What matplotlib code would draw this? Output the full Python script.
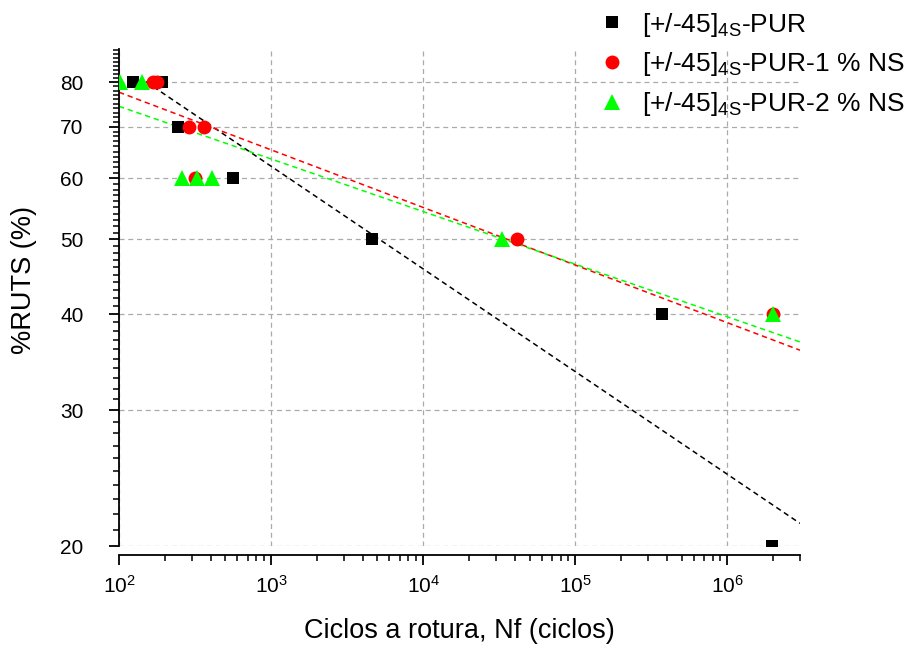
import numpy as np
import matplotlib
matplotlib.use('Agg')
import matplotlib.pyplot as plt
from matplotlib.ticker import FixedLocator, FixedFormatter, NullFormatter, LogLocator, LogFormatterMathtext

plt.rcParams['font.family'] = ['Liberation Sans', 'DejaVu Sans']
plt.rcParams['mathtext.fontset'] = 'custom'
plt.rcParams['mathtext.rm'] = 'Liberation Sans'
plt.rcParams['mathtext.it'] = 'Liberation Sans:italic'

# data
pur_n = [124, 192, 244, 562, 4610, 373000, 1950000]
pur_s = [80, 80, 70, 60, 50, 40, 20]

ns1_n = [167, 178, 289, 362, 316, 41500, 2000000]
ns1_s = [80, 80, 70, 70, 60, 50, 40]

ns2_n = [101, 141, 259, 326, 409, 33000, 2000000]
ns2_s = [80, 80, 60, 60, 60, 50, 40]

# fitted lines (end points)
fit_pur_n = [150, 3e6]
fit_pur_s = [80.1, 21.4]
fit_ns1_n = [100, 3e6]
fit_ns1_s = [77.6, 35.9]
fit_ns2_n = [100, 3e6]
fit_ns2_s = [74.4, 36.8]

y_ticks = [20, 30, 40, 50, 60, 70, 80]

labels = [r'[+/-45]$_{\mathrm{4S}}$-PUR',
          r'[+/-45]$_{\mathrm{4S}}$-PUR-1 % NS',
          r'[+/-45]$_{\mathrm{4S}}$-PUR-2 % NS']

fig = plt.figure(figsize=(9.07, 6.48), dpi=100)
ax = fig.add_axes([119 / 907, 102 / 648, (800 - 119) / 907, (546 - 49) / 648])

dash = (0, (3.5, 2.5))
ax.plot(fit_pur_n, fit_pur_s, color='black', linestyle=dash, lw=1.1, zorder=2)
ax.plot(fit_ns1_n, fit_ns1_s, color='#ff0000', linestyle=dash, lw=1.1, zorder=2)
ax.plot(fit_ns2_n, fit_ns2_s, color='#00ff00', linestyle=dash, lw=1.1, zorder=2)

h1, = ax.plot(pur_n, pur_s, 's', color='black', ms=9, mew=0, zorder=3, label=labels[0])
h2, = ax.plot(ns1_n, ns1_s, 'o', color='#ff0000', ms=10, mew=0, zorder=4, label=labels[1])
h3, = ax.plot(ns2_n, ns2_s, '^', color='#00ff00', ms=11, mew=0, zorder=5, label=labels[2])

ax.set_xscale('log')
ax.set_yscale('log')
ax.set_xlim(100, 3e6)
ax.set_ylim(20, 88.3)

ax.yaxis.set_major_locator(FixedLocator(y_ticks))
ax.yaxis.set_minor_locator(FixedLocator(np.arange(21, 89, 1)))
ax.yaxis.set_major_formatter(FixedFormatter([str(v) for v in y_ticks]))
ax.yaxis.set_minor_formatter(NullFormatter())

ax.xaxis.set_major_locator(LogLocator(base=10))
ax.xaxis.set_minor_locator(LogLocator(base=10, subs=np.arange(2, 10)))
ax.xaxis.set_major_formatter(LogFormatterMathtext())
ax.xaxis.set_minor_formatter(NullFormatter())

for s in ['top', 'right']:
    ax.spines[s].set_visible(False)
ax.spines['bottom'].set_position(('outward', 6.5))
ax.spines['left'].set_linewidth(1.3)
ax.spines['bottom'].set_linewidth(1.3)

ax.tick_params(which='major', direction='out', length=7, width=1.3, labelsize=15)
ax.tick_params(which='minor', direction='out', length=4, width=1.1)
ax.tick_params(axis='x', pad=7)
ax.tick_params(axis='y', pad=18.5)

ax.grid(True, which='major', color='#aaaaaa', linestyle=(0, (4, 3)), lw=0.9)
ax.set_axisbelow(True)

ax.set_xlabel('Ciclos a rotura, Nf (ciclos)', fontsize=19.5)
ax.set_ylabel('%RUTS (%)', fontsize=19.5)
ax.xaxis.set_label_coords(0.5, -0.145)
ax.yaxis.set_label_coords(-0.12, 0.535)

fig.legend(handles=[h1, h2, h3], loc='upper left', bbox_to_anchor=(591 / 907, 1.0),
           frameon=False, fontsize=19, handlelength=0.8, handletextpad=0.72,
           labelspacing=0.45, borderaxespad=0)

fig.savefig('out.png', dpi=100)
